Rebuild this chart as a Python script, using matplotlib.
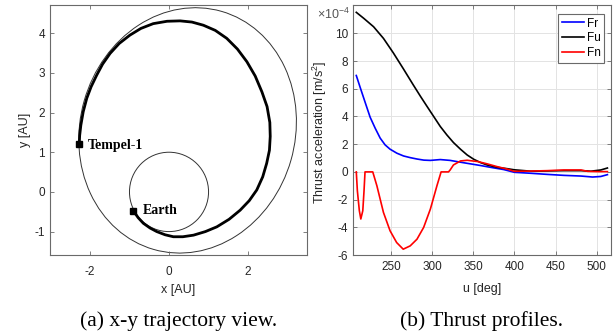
import matplotlib
matplotlib.use("Agg")
import matplotlib.pyplot as plt
from matplotlib.patches import Ellipse, Circle

plt.rcParams['font.family'] = ['Liberation Sans', 'DejaVu Sans']
plt.rcParams['mathtext.fontset'] = 'custom'
plt.rcParams['mathtext.rm'] = 'Liberation Sans'
plt.rcParams['mathtext.it'] = 'Liberation Sans:italic'
plt.rcParams['axes.unicode_minus'] = False

# ---- data: (a) trajectory in AU ----
traj_x = [-0.90, -0.78, -0.65, -0.48, -0.31, -0.10, 0.11, 0.35, 0.62, 0.92, 1.21, 1.52,
          1.80, 2.03, 2.22, 2.37, 2.47, 2.54, 2.56, 2.55, 2.48, 2.35, 2.18, 1.97, 1.73,
          1.46, 1.17, 0.87, 0.58, 0.28, -0.05, -0.40, -0.71, -0.99, -1.26, -1.49, -1.68,
          -1.83, -1.97, -2.08, -2.17, -2.23, -2.26, -2.27]
traj_y = [-0.48, -0.65, -0.79, -0.91, -1.00, -1.08, -1.13, -1.13, -1.09, -1.00, -0.88, -0.69,
          -0.46, -0.22, 0.05, 0.38, 0.72, 1.05, 1.40, 1.75, 2.15, 2.52, 2.92, 3.28, 3.60,
          3.87, 4.07, 4.20, 4.28, 4.31, 4.30, 4.24, 4.12, 3.95, 3.74, 3.49, 3.22,
          2.94, 2.65, 2.36, 2.02, 1.68, 1.42, 1.20]
earth_pos = (-0.90, -0.48)
tempel_pos = (-2.27, 1.20)
# orbits: centre, full width, full height, tilt (deg)
earth_orbit = ((0.0, 0.0), 1.0)
tempel_orbit = ((0.47, 1.55), 6.24, 5.44, 74)

# ---- data: (b) thrust profiles, units of 1e-4 m/s^2 ----
u_fr = [208, 212.6, 218.7, 224.8, 230.9, 237, 243, 249, 257.3, 265.4, 273.5, 281.7, 290, 298,
        310, 322, 334.5, 346.7, 359, 371, 387, 400, 420, 440, 460, 481, 495, 505, 513]
fr = [6.96, 6.12, 5.03, 3.95, 3.16, 2.44, 1.95, 1.64, 1.35, 1.15, 1.03, 0.93, 0.85, 0.83,
      0.89, 0.83, 0.70, 0.58, 0.46, 0.33, 0.17, -0.03, -0.10, -0.18, -0.25, -0.30, -0.37, -0.33, -0.2]
u_fu = [208, 217, 229, 241, 253, 265, 277, 286, 294, 302, 310, 318, 326, 334.5, 342.7, 350.7,
        359, 367, 379, 391.5, 400, 420, 440, 460, 481, 493, 505, 513]
fu = [11.52, 11.09, 10.48, 9.64, 8.59, 7.46, 6.3, 5.45, 4.72, 4.0, 3.28, 2.67, 2.12, 1.64, 1.22, 0.91,
      0.67, 0.50, 0.33, 0.23, 0.15, 0.05, 0.07, 0.09, 0.09, 0.05, 0.14, 0.28]
u_fn = [208, 209.3, 211.7, 213.5, 215.9, 217.4, 218.6, 228, 233, 241, 249, 257, 265, 273.5,
        281.7, 289.8, 298, 306, 311, 320, 322, 326, 334.5, 342.7, 356, 367, 379, 391.5, 400,
        420, 440, 460, 481, 489, 501, 513]
fn = [0, -1.36, -2.8, -3.4, -2.8, -1.36, 0, 0, -1.0, -2.93, -4.25, -5.1, -5.58, -5.34,
      -4.86, -4.01, -2.68, -0.99, 0, 0, 0.14, 0.5, 0.79, 0.84, 0.74, 0.58, 0.38, 0.2, 0.04,
      0.06, 0.09, 0.14, 0.14, 0.04, 0.02, 0.02]

spine_c = '#6a6a6a'
text_c = '#262626'

fig = plt.figure(figsize=(6.16, 3.35), dpi=100)
ax1 = fig.add_axes([50 / 616, 80 / 335, 257 / 616, 250 / 335])
ax2 = fig.add_axes([353 / 616, 80 / 335, 257.7 / 616, 250 / 335])

# (a)
ax1.add_patch(Circle(earth_orbit[0], earth_orbit[1], fill=False, ec='#333333', lw=0.7))
ax1.add_patch(Ellipse(tempel_orbit[0], tempel_orbit[1], tempel_orbit[2], angle=tempel_orbit[3],
                      fill=False, ec='#333333', lw=0.7))
ax1.plot(traj_x, traj_y, color='black', lw=2.0, solid_joinstyle='round')
ax1.plot(*earth_pos, 's', color='black', ms=4.5)
ax1.plot(*tempel_pos, 's', color='black', ms=4.5)
ax1.annotate('Tempel-1', tempel_pos, xytext=(6.5, -1), textcoords='offset points',
             va='center', family='Liberation Serif', weight='bold', fontsize=10)
ax1.annotate('Earth', earth_pos, xytext=(7, 0), textcoords='offset points',
             va='center', family='Liberation Serif', weight='bold', fontsize=10)
ax1.set_xlim(-3.01, 3.49)
ax1.set_ylim(-1.59, 4.71)
ax1.set_xticks([-2, 0, 2])
ax1.set_yticks([-1, 0, 1, 2, 3, 4])
ax1.set_xlabel('x [AU]', fontsize=9, color=text_c)
ax1.set_ylabel('y [AU]', fontsize=9, color=text_c)
ax1.xaxis.set_label_coords(0.5, -0.115)
ax1.yaxis.set_label_coords(-0.072, 0.5)
ax1.tick_params(axis='x', pad=8)

# (b)
ax2.plot(u_fr, fr, color='#0000ff', lw=1.2, label='Fr')
ax2.plot(u_fu, fu, color='black', lw=1.2, label='Fu')
ax2.plot(u_fn, fn, color='#ff0000', lw=1.2, label='Fn')
ax2.set_xlim(204, 517)
ax2.set_ylim(-6, 12.05)
ax2.set_xticks([250, 300, 350, 400, 450, 500])
ax2.set_yticks([-6, -4, -2, 0, 2, 4, 6, 8, 10])
ax2.grid(True, color='#e3e3e3', lw=0.7)
ax2.set_axisbelow(True)
ax2.set_xlabel('u [deg]', fontsize=9, color=text_c)
ax2.set_ylabel('Thrust acceleration [m/s$^2$]', fontsize=9, color=text_c)
ax2.xaxis.set_label_coords(0.5, -0.112)
ax2.yaxis.set_label_coords(-0.092, 0.49)
ax2.tick_params(axis='x', pad=4)
ax2.text(-0.141, 0.964, r'$\times10^{-4}$', transform=ax2.transAxes, ha='left', va='center',
         fontsize=9, color='#555555')
leg = ax2.legend(loc='upper right', bbox_to_anchor=(0.974, 0.964), borderaxespad=0,
                 fontsize=8.5, handlelength=1.9, handletextpad=0.2, borderpad=0.3,
                 labelspacing=0.25, fancybox=False, framealpha=1)
leg.get_frame().set_edgecolor(spine_c)
leg.get_frame().set_linewidth(0.8)

for ax in (ax1, ax2):
    for s in ax.spines.values():
        s.set_color(spine_c)
        s.set_linewidth(0.8)
    ax.tick_params(direction='in', top=True, right=True, length=3, width=0.6,
                   color=spine_c, labelcolor=text_c, labelsize=8.5)

fig.text((50 + 307) / 2 / 616, 13.5 / 335, '(a) x-y trajectory view.', ha='center', va='center',
         family='Liberation Serif', fontsize=15.5)
fig.text((353 + 610.7) / 2 / 616, 13.5 / 335, '(b) Thrust profiles.', ha='center', va='center',
         family='Liberation Serif', fontsize=15.5)

fig.savefig('out.png', dpi=100)
